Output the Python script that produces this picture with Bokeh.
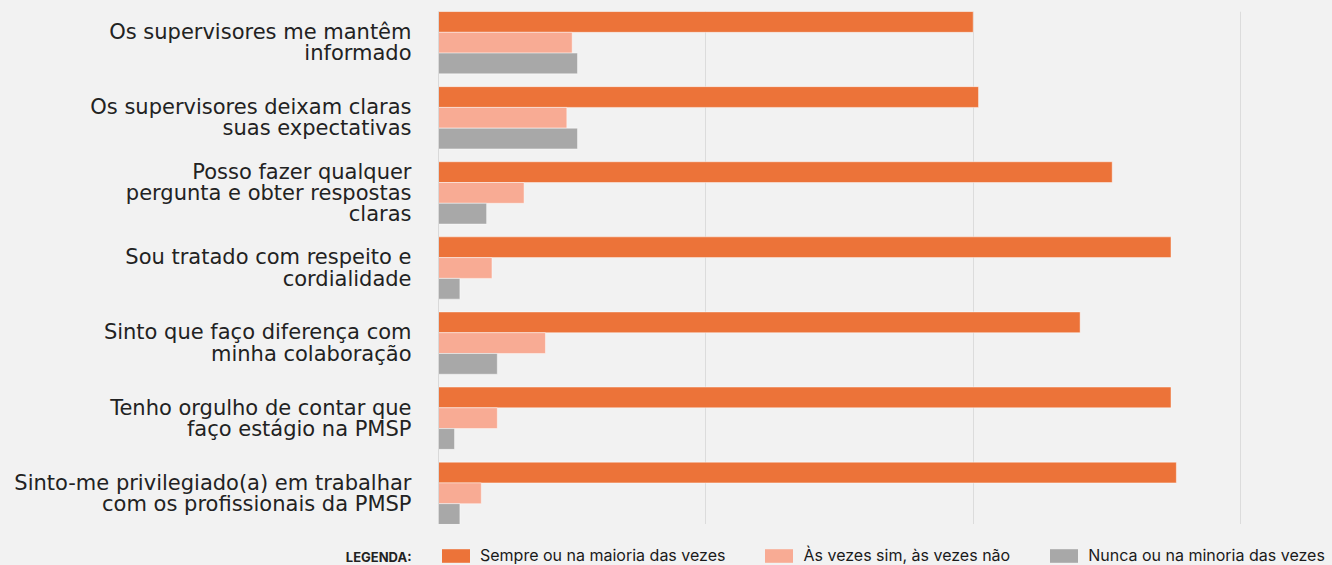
from bokeh.plotting import figure
from bokeh.layouts import column
from bokeh.models import Range1d, FixedTicker, Legend, LegendItem, ColumnDataSource
from bokeh.transform import dodge
from bokeh.embed import file_html
from bokeh.resources import INLINE

categories = [
    "Os supervisores me mantêm\ninformado",
    "Os supervisores deixam claras\nsuas expectativas",
    "Posso fazer qualquer\npergunta e obter respostas\nclaras",
    "Sou tratado com respeito e\ncordialidade",
    "Sinto que faço diferença com\nminha colaboração",
    "Tenho orgulho de contar que\nfaço estágio na PMSP",
    "Sinto-me privilegiado(a) em trabalhar\ncom os profissionais da PMSP",
]
sempre = [100, 101, 126, 137, 120, 137, 138]
as_vezes = [25, 24, 16, 10, 20, 11, 8]
nunca = [26, 26, 9, 4, 11, 3, 4]
series_cols = ["sempre", "as_vezes", "nunca"]
series_names = ["Sempre ou na maioria das vezes", "Às vezes sim, às vezes não", "Nunca ou na minoria das vezes"]
colors = ["#EC7339", "#F8AB94", "#A8A8A8"]
grid_ticks = [50, 100, 150]
legend_title = "LEGENDA:"

BG = "#F2F2F2"
ypos = list(range(len(categories)))
src = ColumnDataSource(dict(y=ypos, sempre=sempre, as_vezes=as_vezes, nunca=nunca))

p = figure(width=1332, height=524, output_backend="svg", toolbar_location=None,
           x_range=Range1d(0, 167.2), y_range=Range1d(6.4155, -0.4155),
           min_border_left=438, min_border_top=11, min_border_right=0, min_border_bottom=0,
           background_fill_color=BG, border_fill_color=BG, outline_line_color=None)

bw = 0.2765
for off, col, c in zip([-bw, 0, bw], series_cols, colors):
    p.hbar(y=dodge("y", off, range=p.y_range), left=0, right=col, height=bw,
           source=src, fill_color=c, line_color="#FFFFFF", line_alpha=0.45, line_width=1)

p.xaxis.visible = False
p.xgrid.ticker = FixedTicker(ticks=grid_ticks)
p.xgrid.grid_line_color = "#DCDCDC"
p.ygrid.grid_line_color = None

ax = p.yaxis[0]
ax.ticker = FixedTicker(ticks=ypos)
ax.major_label_overrides = {i: c for i, c in zip(ypos, categories)}
ax.major_tick_line_color = None
ax.minor_tick_line_color = None
ax.axis_line_color = "#D9D9D9"
ax.major_label_standoff = 21
ax.major_label_text_font = "DejaVu Sans"
ax.major_label_text_font_size = "21px"
ax.major_label_text_color = "#222222"
ax.major_label_text_line_height = 0.89

# legend strip (frame aligned with the chart above)
lg = figure(width=1332, height=41, output_backend="svg", toolbar_location=None,
            x_range=Range1d(0, 894), y_range=Range1d(0, 41),
            min_border_left=438, min_border_right=0, min_border_top=0, min_border_bottom=0,
            background_fill_color=BG, border_fill_color=BG, outline_line_color=None)
lg.xaxis.visible = False
lg.grid.visible = False
lax = lg.yaxis[0]
lax.ticker = FixedTicker(ticks=[7])
lax.major_label_overrides = {7: legend_title}
lax.axis_line_color = None
lax.major_tick_line_color = None
lax.minor_tick_line_color = None
lax.major_label_standoff = 21
lax.major_label_text_font = "Inter"
lax.major_label_text_font_size = "13px"
lax.major_label_text_font_style = "bold"
lax.major_label_text_color = "#222222"

hidden = []
for col, c in zip(series_cols, colors):
    hidden.append(lg.hbar(y="y", left=0, right=col, height=1, source=src,
                          fill_color=c, line_color=None, visible=False))
legend = Legend(items=[LegendItem(label=n, renderers=[r]) for n, r in zip(series_names, hidden)],
                orientation="horizontal", location=(0, 0),
                glyph_width=35, glyph_height=17, label_standoff=7, spacing=36,
                padding=0, margin=0, background_fill_alpha=0, border_line_color=None,
                inactive_fill_alpha=0,
                label_text_font="Inter", label_text_font_size="16px", label_text_color="#1A1A1A")
lg.add_layout(legend, "center")

layout = column(p, lg, spacing=0, styles={"background-color": BG})
open("out.html", "w").write(file_html(layout, INLINE))
